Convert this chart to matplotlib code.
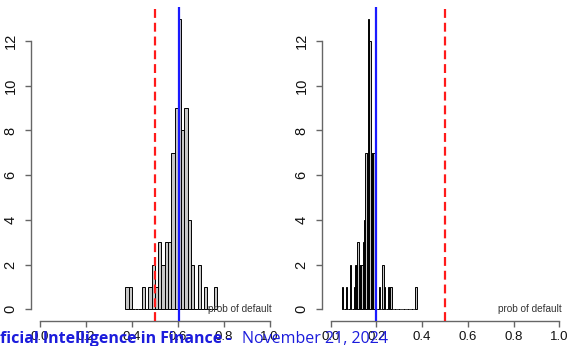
import matplotlib
matplotlib.use("Agg")
import matplotlib.pyplot as plt
import numpy as np

plt.rcParams['font.family'] = ['Liberation Sans', 'DejaVu Sans']

# ---- data ----
left_first_break = 0.372
left_bin_width = 0.0143
left_counts = [1, 1, 0, 0, 0, 1, 0, 1, 2, 1,
               3, 2, 3, 3, 7, 9, 13, 8, 9, 4,
               2, 0, 2, 0, 1, 0, 0, 1]
left_mean = 0.607
left_threshold = 0.5

right_first_break = 0.048
right_bin_width = 0.00575
right_counts = [1, 0, 0, 1, 0, 0, 2, 0, 0, 1,
                2, 2, 3, 2, 2, 2, 3, 4, 7, 7,
                13, 12, 7, 7, 7, 0, 0, 0, 1, 0,
                0, 2, 1, 0, 0, 1, 1, 1, 0, 0,
                0, 0, 0, 0, 0, 0, 0, 0, 0, 0,
                0, 0, 0, 0, 0, 0, 1]
right_mean = 0.2
right_threshold = 0.5

x_ticks = [0.0, 0.2, 0.4, 0.6, 0.8, 1.0]
x_ticklabels = ["0.0", "0.2", "0.4", "0.6", "0.8", "1.0"]
y_ticks = [0, 2, 4, 6, 8, 10, 12]
y_ticklabels = ["0", "2", "4", "6", "8", "10", "12"]
xlabel_text = "prob of default"
footer_bold = "ficial Intelligence in Finance -"
footer_regular = "November 21, 2024"

W, H = 570, 346
fig = plt.figure(figsize=(W / 100, H / 100), dpi=100)

def make_axes(left_px, right_px):
    top_px, bottom_px = 7, 321
    return fig.add_axes([left_px / W, (H - bottom_px) / H,
                         (right_px - left_px) / W, (bottom_px - top_px) / H])

panels = [
    (make_axes(30.8, 278.7), left_first_break, left_bin_width, left_counts, left_mean, left_threshold),
    (make_axes(321.6, 568.4), right_first_break, right_bin_width, right_counts, right_mean, right_threshold),
]

axis_color = '#666666'
for ax, first, bw, counts, mean_v, thr in panels:
    starts = first + bw * np.arange(len(counts))
    ax.set_xlim(-0.04, 1.04)
    ax.set_ylim(-0.52, 13.52)
    ax.patch.set_alpha(0)
    ax.bar(starts, counts, width=bw, align='edge', color='#c8c8c8',
           edgecolor='black', linewidth=0.7, zorder=2)
    ax.axvline(thr, color='#ff1a1a', linestyle=(0, (4, 2.2)), linewidth=1.6, zorder=3)
    ax.axvline(mean_v, color='#1a1aff', linewidth=1.6, zorder=4)
    for s in ['top', 'right']:
        ax.spines[s].set_visible(False)
    for s in ['left', 'bottom']:
        ax.spines[s].set_color(axis_color)
        ax.spines[s].set_linewidth(1.0)
    ax.spines['left'].set_bounds(0, 12)
    ax.spines['bottom'].set_bounds(0, 1)
    ax.set_xticks(x_ticks)
    ax.set_xticklabels(x_ticklabels)
    ax.set_yticks(y_ticks)
    ax.set_yticklabels(y_ticklabels, rotation=90, va='center')
    ax.tick_params(axis='both', length=4.5, width=1.0, color=axis_color,
                   labelcolor='#111111')
    ax.tick_params(axis='x', pad=3, labelsize=9.5)
    ax.tick_params(axis='y', pad=5, labelsize=10.5)
    ax.text(0.87, 0.0, xlabel_text, ha='center', va='center',
            fontsize=7.2, color='#333333', zorder=5)

fig.text(0.0, 3 / H, footer_bold, fontsize=11.5, fontweight='bold',
         color='#1c1cdc', ha='left', va='baseline', family=['Open Sans', 'DejaVu Sans'])
fig.text(242 / W, 3 / H, footer_regular, fontsize=11.5,
         color='#1c1cdc', ha='left', va='baseline', family=['Open Sans', 'DejaVu Sans'])

fig.savefig("out.png", dpi=100)
